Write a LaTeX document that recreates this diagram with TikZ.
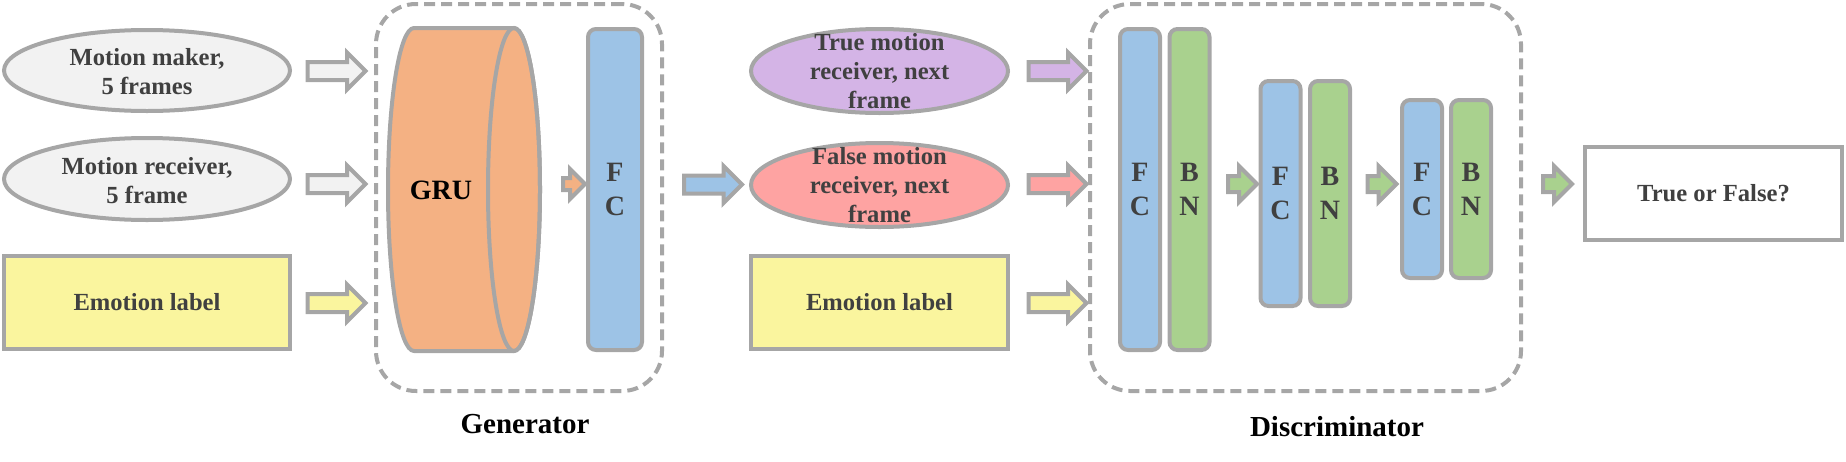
\documentclass[tikz,border=0pt]{standalone}
\usepackage{fontspec}
\setmainfont{Liberation Serif}
\usetikzlibrary{shapes.geometric,shapes.arrows}
\definecolor{edge}{HTML}{A6A6A6}
\definecolor{txtc}{HTML}{404040}
\definecolor{lgray}{HTML}{F2F2F2}
\definecolor{yel}{HTML}{FAF59E}
\definecolor{org}{HTML}{F4B183}
\definecolor{blu}{HTML}{9DC3E6}
\definecolor{grn}{HTML}{A9D18E}
\definecolor{pur}{HTML}{D4B4E6}
\definecolor{pnk}{HTML}{FEA3A2}
\begin{document}
\begin{tikzpicture}[x=0.5pt,y=0.5pt,
  every node/.style={inner sep=0pt, outer sep=0pt},
  body/.style={font=\fontsize{12.3}{14.5}\selectfont\bfseries, text=txtc, align=center},
  ell/.style={ellipse, draw=edge, line width=2pt},
  box/.style={rectangle, draw=edge, line width=2pt},
  layer/.style={rectangle, rounded corners=4pt, draw=edge, line width=2pt, minimum width=20pt,
    font=\fontsize{14}{17}\selectfont\bfseries, text=txtc, align=center},
  group/.style={rectangle, rounded corners=20pt, draw=edge, line width=2pt, dash pattern=on 5.5pt off 3pt},
  bigarrow/.style={single arrow, draw=edge, line width=2pt, minimum height=29pt,
    inner ysep=3.5pt, inner xsep=0pt, single arrow head extend=4.75pt},
  smallarrow/.style={single arrow, draw=edge, line width=2pt, minimum height=11pt,
    inner ysep=2pt, inner xsep=0pt, single arrow head extend=4.5pt},
  greenarrow/.style={single arrow, draw=edge, line width=2pt, minimum height=14.5pt,
    inner ysep=3pt, inner xsep=0pt, single arrow head extend=5pt, fill=grn},
  lbl/.style={font=\fontsize{14.5}{17}\selectfont\bfseries, text=black},
  gru/.style={font=\fontsize{14}{17}\selectfont\bfseries, text=black}
]
\useasboundingbox (0,0) rectangle (1846,-461);

% ---- inputs of the generator
\node[ell, fill=lgray, minimum width=143pt, minimum height=40.5pt] (mm) at (147,-70.5) {};
\node[body] (mmt) at (147,-71.5) {Motion maker,\\5 frames};
\node[ell, fill=lgray, minimum width=143pt, minimum height=41pt] (mr) at (147,-179) {};
\node[body] (mrt) at (147,-180.5) {Motion receiver,\\5 frame};
\node[box, body, fill=yel, minimum width=143pt, minimum height=46.5pt] (em1) at (147,-302.5) {Emotion label};

\node[bigarrow, fill=lgray] (a1) at (332,-71) {};
\node[bigarrow, fill=lgray] (a2) at (332,-184) {};
\node[bigarrow, fill=yel] (a3) at (332,-303) {};

% ---- generator
\node[group, minimum width=143pt, minimum height=193.5pt] (gen) at (519,-197.5) {};
\node[lbl, anchor=base] (genl) at (525,-433) {Generator};

\filldraw[fill=org, draw=edge, line width=2pt, line join=round]
  (414,-28) -- (514,-28)
  arc[start angle=90, end angle=-90, x radius=13pt, y radius=80.75pt]
  -- (414,-351)
  arc[start angle=270, end angle=90, x radius=13pt, y radius=80.75pt] -- cycle;
\draw[draw=edge, line width=2pt] (514,-189.5) ellipse[x radius=13pt, y radius=80.75pt];
\node[gru] (grut) at (441,-190) {GRU};

\node[smallarrow, fill=org] (a4) at (571,-184) {};
\node[layer, fill=blu, minimum width=27pt, minimum height=160.5pt] (fcg) at (615,-189.5) {F\\C};

\node[bigarrow, fill=blu] (a5) at (708.5,-184.5) {};

% ---- inputs of the discriminator
\node[ell, fill=pur, minimum width=128.5pt, minimum height=42pt] (tm) at (879.5,-71) {};
\node[body] (tmt) at (879.5,-71.5) {True motion\\receiver, next\\frame};
\node[ell, fill=pnk, minimum width=128.5pt, minimum height=42pt] (fm) at (879.5,-185) {};
\node[body] (fmt) at (879.5,-185.5) {False motion\\receiver, next\\frame};
\node[box, body, fill=yel, minimum width=128.5pt, minimum height=46.5pt] (em2) at (879.5,-302.5) {Emotion label};

\node[bigarrow, fill=pur] (a6) at (1053,-71) {};
\node[bigarrow, fill=pnk] (a7) at (1053,-184) {};
\node[bigarrow, fill=yel] (a8) at (1053,-303) {};

% ---- discriminator
\node[group, minimum width=215.5pt, minimum height=193.5pt] (disc) at (1305.5,-197.5) {};
\node[lbl, anchor=base] (discl) at (1337,-436) {Discriminator};

\node[layer, fill=blu, minimum height=160.5pt] (fc1) at (1140,-189.5) {F\\C};
\node[layer, fill=grn, minimum height=160.5pt] (bn1) at (1189.5,-189.5) {B\\N};
\node[greenarrow] (g1) at (1238.5,-184) {};
\node[layer, fill=blu, minimum height=112.5pt] (fc2) at (1280.5,-193.5) {F\\C};
\node[layer, fill=grn, minimum height=112.5pt] (bn2) at (1330,-193.5) {B\\N};
\node[greenarrow] (g2) at (1378,-184) {};
\node[layer, fill=blu, minimum height=89pt] (fc3) at (1422,-189) {F\\C};
\node[layer, fill=grn, minimum height=89pt] (bn3) at (1471,-189) {B\\N};
\node[greenarrow] (g3) at (1553.5,-184) {};

\node[box, body, fill=white, minimum width=128.5pt, minimum height=46.5pt] (tf) at (1713.5,-193.5) {True or False?};
\end{tikzpicture}
\end{document}
